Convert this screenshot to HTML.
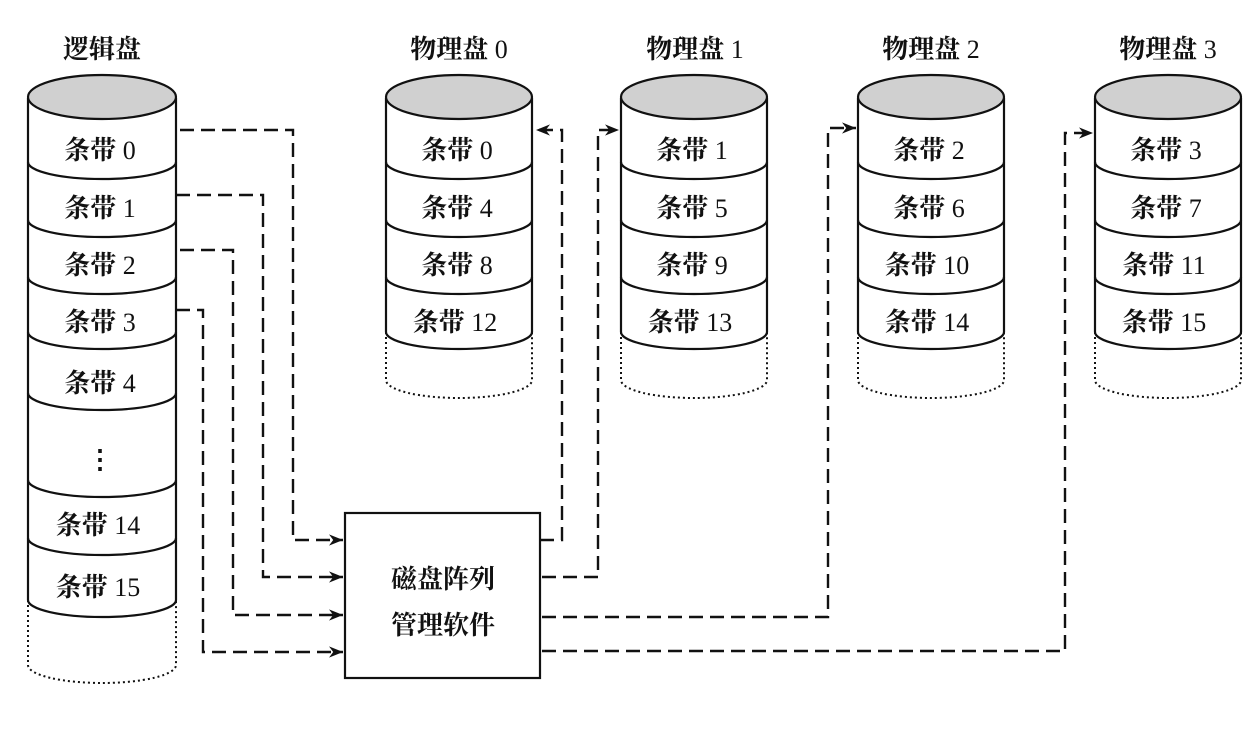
<!DOCTYPE html>
<html><head><meta charset="utf-8"><style>
html,body{margin:0;padding:0;background:#fff;}
svg{display:block;}
text{font-family:"Liberation Serif","Noto Serif CJK SC",serif;font-size:26px;fill:#111;font-weight:bold;}
tspan.n{font-weight:normal;}
</style></head><body>
<svg width="1257" height="735" viewBox="0 0 1257 735" xmlns="http://www.w3.org/2000/svg">
<defs>
<marker id="ar" viewBox="0 0 10 10" refX="10" refY="5" markerWidth="14" markerHeight="14" markerUnits="userSpaceOnUse" orient="auto">
<path d="M0,1 L10,5 L0,9 L3,5 Z" fill="#111"/>
</marker>
</defs>
<g stroke="#111" stroke-width="2.2" fill="none">
<path d="M28,98 L28,600 A74,17 0 0 0 176,600 L176,98" fill="#fff"/>
<ellipse cx="102" cy="97" rx="74" ry="22" fill="#d0d0d0"/>
<path d="M28,162 A74,17 0 0 0 176,162"/>
<path d="M28,220 A74,17 0 0 0 176,220"/>
<path d="M28,277 A74,17 0 0 0 176,277"/>
<path d="M28,332 A74,17 0 0 0 176,332"/>
<path d="M28,393 A74,17 0 0 0 176,393"/>
<path d="M28,480 A74,17 0 0 0 176,480"/>
<path d="M28,538 A74,17 0 0 0 176,538"/>
<path d="M28,600 L28,665 A74,18 0 0 0 176,665 L176,600" stroke-dasharray="2,3" stroke-width="2"/>

<g id="pd">
<path d="M386,98 L386,332 A73,17 0 0 0 532,332 L532,98" fill="#fff"/>
<ellipse cx="459" cy="97" rx="73" ry="22" fill="#d0d0d0"/>
<path d="M386,162 A73,17 0 0 0 532,162"/>
<path d="M386,220 A73,17 0 0 0 532,220"/>
<path d="M386,277 A73,17 0 0 0 532,277"/>
<path d="M386,332 L386,380 A73,18 0 0 0 532,380 L532,332" stroke-dasharray="2,3" stroke-width="2"/>
</g>
<use href="#pd" x="235"/>
<use href="#pd" x="472"/>
<use href="#pd" x="709"/>

<rect x="345" y="513" width="195" height="165" fill="#fff"/>

<g stroke-dasharray="14,7" stroke-width="2.4">
<path d="M180,130 L293,130 L293,540 L343,540" marker-end="url(#ar)"/>
<path d="M176,195 L263,195 L263,577 L343,577" marker-end="url(#ar)"/>
<path d="M180,250 L233,250 L233,615 L343,615" marker-end="url(#ar)"/>
<path d="M176,310 L203,310 L203,652 L343,652" marker-end="url(#ar)"/>
<path d="M540,540 L562,540 L562,130 L536,130" marker-end="url(#ar)"/>
<path d="M542,577 L598,577 L598,130 L619,130" marker-end="url(#ar)"/>
<path d="M542,617 L828,617 L828,128 L856,128" marker-end="url(#ar)"/>
<path d="M542,651 L1065,651 L1065,133 L1093,133" marker-end="url(#ar)"/>
</g>
</g>

<g text-anchor="middle">
<text x="102" y="58">逻辑盘</text>
<text x="459" y="58">物理盘 <tspan class="n">0</tspan></text>
<text x="695" y="58">物理盘 <tspan class="n">1</tspan></text>
<text x="931" y="58">物理盘 <tspan class="n">2</tspan></text>
<text x="1168" y="58">物理盘 <tspan class="n">3</tspan></text>

<text x="100" y="159">条带 <tspan class="n">0</tspan></text>
<text x="100" y="217">条带 <tspan class="n">1</tspan></text>
<text x="100" y="274">条带 <tspan class="n">2</tspan></text>
<text x="100" y="331">条带 <tspan class="n">3</tspan></text>
<text x="100" y="392">条带 <tspan class="n">4</tspan></text>
<text x="100" y="468">⋮</text>
<text x="98" y="534">条带 <tspan class="n">14</tspan></text>
<text x="98" y="596">条带 <tspan class="n">15</tspan></text>

<text x="457" y="159">条带 <tspan class="n">0</tspan></text>
<text x="457" y="217">条带 <tspan class="n">4</tspan></text>
<text x="457" y="274">条带 <tspan class="n">8</tspan></text>
<text x="455" y="331">条带 <tspan class="n">12</tspan></text>

<text x="692" y="159">条带 <tspan class="n">1</tspan></text>
<text x="692" y="217">条带 <tspan class="n">5</tspan></text>
<text x="692" y="274">条带 <tspan class="n">9</tspan></text>
<text x="690" y="331">条带 <tspan class="n">13</tspan></text>

<text x="929" y="159">条带 <tspan class="n">2</tspan></text>
<text x="929" y="217">条带 <tspan class="n">6</tspan></text>
<text x="927" y="274">条带 <tspan class="n">10</tspan></text>
<text x="927" y="331">条带 <tspan class="n">14</tspan></text>

<text x="1166" y="159">条带 <tspan class="n">3</tspan></text>
<text x="1166" y="217">条带 <tspan class="n">7</tspan></text>
<text x="1164" y="274">条带 <tspan class="n">11</tspan></text>
<text x="1164" y="331">条带 <tspan class="n">15</tspan></text>

<text x="443" y="588">磁盘阵列</text>
<text x="443" y="634">管理软件</text>
</g>
</svg>
</body></html>
